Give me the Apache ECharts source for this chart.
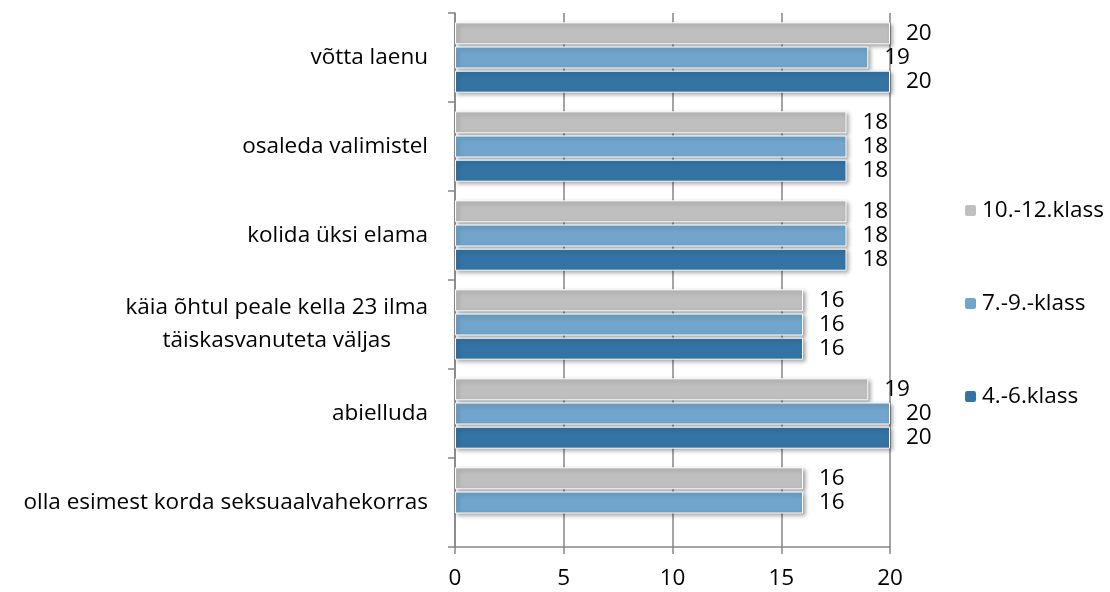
<!DOCTYPE html>
<html>
<head>
<meta charset="utf-8">
<script src="https://cdn.jsdelivr.net/npm/echarts@6/dist/echarts.min.js"></script>
<style>
  html, body { margin: 0; padding: 0; background: #fff; }
  #barChart { width: 1110px; height: 592px; }
</style>
</head>
<body>
<div id="barChart"></div>
<script>
// kategooriad ülevalt alla
var categories = [
  "võtta laenu",
  "osaleda valimistel",
  "kolida üksi elama",
  "käia õhtul peale kella 23 ilma\ntäiskasvanuteta väljas",
  "abielluda",
  "olla esimest korda seksuaalvahekorras"
];
var seriesNames = ["10.-12.klass", "7.-9.-klass", "4.-6.klass"];
var klass10_12 = [20, 18, 18, 16, 19, 16];
var klass7_9 = [19, 18, 18, 16, 20, 16];
var klass4_6 = [20, 18, 18, 16, 20, null];
var xTicks = [0, 5, 10, 15, 20];

var colors = ["#bfbfbf", "#71a5cb", "#3474a5"];
var font = "'Open Sans', sans-serif";
var fs = 22.5;

var chartDom = document.getElementById("barChart");
var myChart = echarts.init(chartDom, null, { renderer: "canvas" });

function barSeries(name, data, color) {
  return {
    name: name,
    type: "bar",
    data: data,
    barWidth: 22,
    barGap: "10%",
    itemStyle: {
      color: color,
      borderColor: "#ffffff",
      borderWidth: 1,
      shadowColor: "rgba(0,0,0,0.35)",
      shadowBlur: 4,
      shadowOffsetX: 2,
      shadowOffsetY: 2
    },
    label: {
      show: true,
      position: "right",
      distance: 16,
      color: "#000",
      fontSize: fs,
      fontFamily: font
    }
  };
}

var option = {
  animation: false,
  backgroundColor: "#fff",
  textStyle: { fontFamily: font },
  grid: { left: 455, right: 220, top: 13, bottom: 45, containLabel: false },
  legend: {
    orient: "vertical",
    left: 958,
    top: 194,
    itemGap: 70,
    itemWidth: 13,
    itemHeight: 13,
    data: seriesNames,
    textStyle: { fontSize: fs, color: "#000", fontFamily: font }
  },
  xAxis: {
    type: "value",
    min: xTicks[0],
    max: xTicks[xTicks.length - 1],
    interval: 5,
    axisLine: { show: true, lineStyle: { color: "#868686", width: 1.5 } },
    axisTick: { show: true, length: 7, lineStyle: { color: "#868686", width: 1.5 } },
    splitLine: { show: true, lineStyle: { color: "#868686", width: 1.5 } },
    axisLabel: { fontSize: fs, color: "#000", margin: 20, fontFamily: font }
  },
  yAxis: {
    type: "category",
    inverse: true,
    data: categories,
    axisLine: { show: true, lineStyle: { color: "#868686", width: 1.5 } },
    axisTick: { show: true, length: 7, lineStyle: { color: "#868686", width: 1.5 } },
    axisLabel: {
      margin: 27,
      color: "#000",
      fontSize: fs,
      fontFamily: font,
      lineHeight: 33,
      formatter: function (v) {
        return v.split("\n").map(function (s) { return "{c|" + s + "}"; }).join("\n");
      },
      rich: { c: { align: "center", fontSize: fs, lineHeight: 33, fontFamily: font, color: "#000" } }
    }
  },
  series: [
    barSeries(seriesNames[0], klass10_12, colors[0]),
    barSeries(seriesNames[1], klass7_9, colors[1]),
    barSeries(seriesNames[2], klass4_6, colors[2])
  ]
};

myChart.setOption(option);
</script>
</body>
</html>
